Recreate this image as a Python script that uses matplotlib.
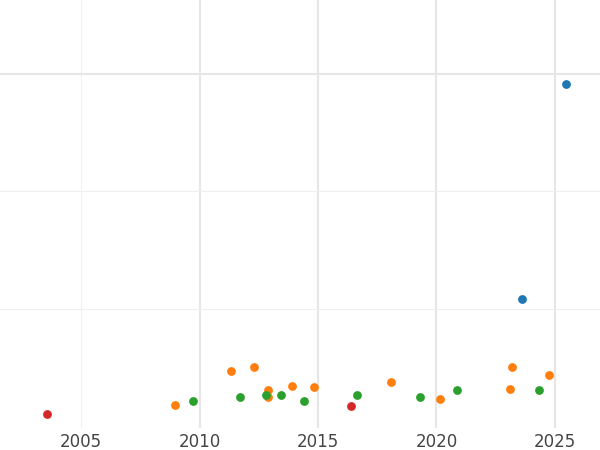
import matplotlib
matplotlib.use("Agg")
import matplotlib.pyplot as plt
from matplotlib.ticker import FixedLocator

red_x = [2003.57, 2016.39]
red_y = [0.106, 0.174]
orange_x = [2008.97, 2011.33, 2012.30, 2012.89, 2012.89, 2013.90, 2014.83, 2018.08, 2020.15, 2023.10, 2023.19, 2024.75]
orange_y = [0.183, 0.472, 0.506, 0.311, 0.251, 0.345, 0.336, 0.379, 0.234, 0.319, 0.506, 0.438]
green_x = [2009.73, 2011.71, 2012.81, 2013.44, 2014.41, 2016.65, 2019.30, 2020.86, 2024.32]
green_y = [0.217, 0.251, 0.268, 0.260, 0.217, 0.268, 0.251, 0.311, 0.311]
blue_x = [2023.61, 2025.46]
blue_y = [1.085, 2.915]
xticks = [2005, 2010, 2015, 2020, 2025]

fig = plt.figure(figsize=(6, 4.5), dpi=100)
ax = fig.add_axes([0, 0.05, 1, 0.95])
for xs, ys, c in [(red_x, red_y, "#d62728"), (orange_x, orange_y, "#ff7f0e"),
                  (green_x, green_y, "#2ca02c"), (blue_x, blue_y, "#1f77b4")]:
    ax.scatter(xs, ys, s=40, color=c, zorder=3, linewidths=0)
ax.set_xlim(2001.58, 2026.9)
ax.set_ylim(-0.013, 3.632)
ax.set_xticks(xticks)
ax.set_xticklabels([str(t) for t in xticks])
ax.yaxis.set_major_locator(FixedLocator([3]))
ax.yaxis.set_minor_locator(FixedLocator([1, 2]))
ax.yaxis.grid(True, which="major", color="#e6e6e6", linewidth=1.5)
ax.yaxis.grid(True, which="minor", color="#efefef", linewidth=0.8)
for t in xticks:
    if t % 10 == 0 or t == 2015 or t == 2025:
        ax.axvline(t, color="#e6e6e6", linewidth=1.5, zorder=0)
    else:
        ax.axvline(t, color="#f0f0f0", linewidth=0.8, zorder=0)
ax.tick_params(axis="x", length=0, labelsize=12, labelcolor="#444444", pad=4)
ax.tick_params(axis="y", which="both", length=0, labelleft=False)
for s in ax.spines.values():
    s.set_visible(False)
ax.set_axisbelow(True)
fig.savefig("out.png", dpi=100)
